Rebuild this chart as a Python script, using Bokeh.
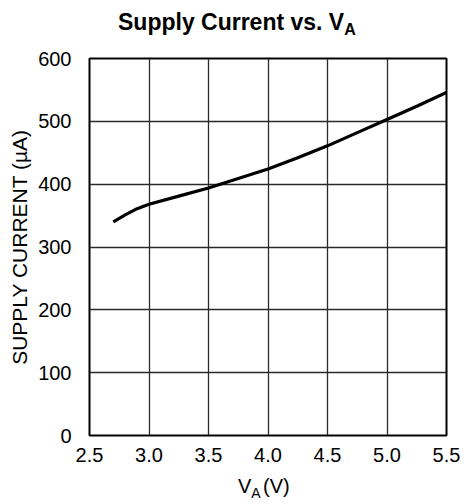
from bokeh.plotting import figure
from bokeh.layouts import column
from bokeh.models import Range1d, FixedTicker, PrintfTickFormatter, Title, Div
from bokeh.embed import file_html
from bokeh.resources import INLINE

# Data
supply_voltage = [2.7, 2.8, 2.9, 3.0, 3.25, 3.5, 3.75, 4.0, 4.25, 4.5, 4.75, 5.0, 5.25, 5.5]
supply_current = [340, 351, 361, 368, 381, 394, 409, 424, 442, 461, 482, 503, 524, 546]
x_ticks = [2.5, 3.0, 3.5, 4.0, 4.5, 5.0, 5.5]
y_ticks = [0, 100, 200, 300, 400, 500, 600]

title_main, title_sub = "Supply Current vs. V", "A"
xlabel_main, xlabel_sub, xlabel_unit = "V", "A", "(V)"
ylabel = "SUPPLY CURRENT (\u00b5A)"

FONT = "Liberation Sans"

# ---- title (HTML, for the subscript) ----
title_div = Div(
    text=(f'<div style="position:relative;width:464px;height:40px;font-family:\'{FONT}\';'
          f'color:black;font-weight:bold;">'
          f'<span style="position:absolute;left:118px;top:6px;font-size:23px;white-space:nowrap;">'
          f'{title_main}<span style="font-size:16px;position:relative;top:5px;">{title_sub}</span>'
          f'</span></div>'),
    width=464, height=40, margin=0)

# ---- main plot ----
p = figure(width=464, height=432, output_backend="svg", toolbar_location=None,
           x_range=Range1d(2.5, 5.5), y_range=Range1d(0, 600),
           min_border_left=87, min_border_right=18, min_border_top=18, min_border_bottom=37,
           margin=0)
p.title = None
p.line(supply_voltage, supply_current, line_color="black", line_width=3.2)

for ax in (p.xaxis, p.yaxis):
    ax.axis_line_color = None
    ax.major_tick_line_color = None
    ax.minor_tick_line_color = None
    ax.major_label_text_font = FONT
    ax.major_label_text_font_size = "20px"
    ax.major_label_text_color = "black"
p.xaxis.ticker = FixedTicker(ticks=x_ticks)
p.xaxis.formatter = PrintfTickFormatter(format="%.1f")
p.xaxis.major_label_standoff = 6
p.yaxis.ticker = FixedTicker(ticks=y_ticks)
p.yaxis.formatter = PrintfTickFormatter(format="%d")
p.yaxis.major_label_standoff = 12
p.xgrid.ticker = FixedTicker(ticks=x_ticks)
p.ygrid.ticker = FixedTicker(ticks=y_ticks)
for g in (p.xgrid, p.ygrid):
    g.grid_line_color = "#2a2a2a"
    g.grid_line_width = 1.3
p.outline_line_color = "black"
p.outline_line_width = 2

p.add_layout(Title(text=ylabel, text_font=FONT, text_font_size="21px",
                   text_font_style="normal", text_color="black", align="center",
                   offset=4), "left")

# ---- x-axis label (HTML, for the subscript) ----
xlabel_div = Div(
    text=(f'<div style="position:relative;width:464px;height:32px;font-family:\'{FONT}\';'
          f'color:black;font-size:20px;">'
          f'<span style="position:absolute;left:238px;top:0px;white-space:nowrap;">'
          f'{xlabel_main}<span style="font-size:14px;position:relative;top:5px;">{xlabel_sub}</span></span>'
          f'<span style="position:absolute;left:263px;top:0px;white-space:nowrap;">{xlabel_unit}</span>'
          f'</div>'),
    width=464, height=32, margin=0)

layout = column(title_div, p, xlabel_div, spacing=0)
open("out.html", "w").write(file_html(layout, INLINE))
